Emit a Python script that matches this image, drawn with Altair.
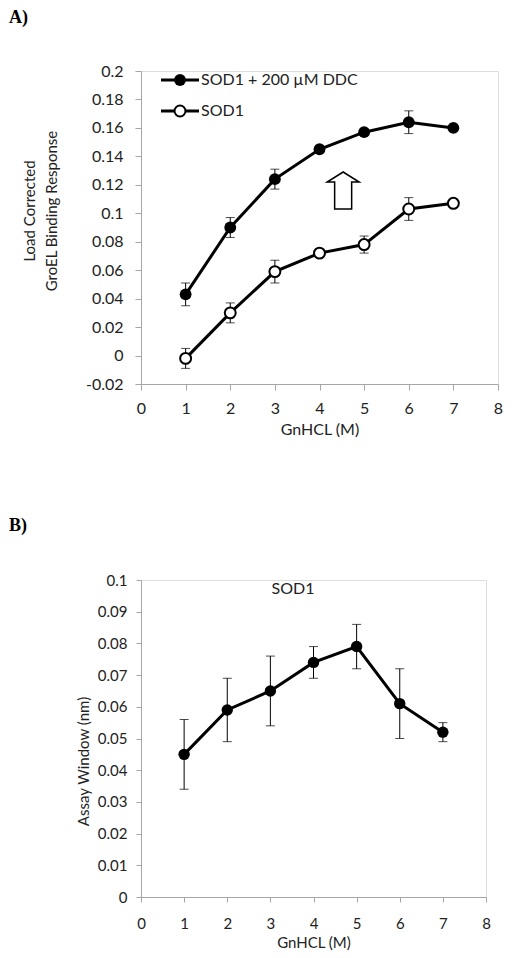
import altair as alt
import pandas as pd

# ---------------- data ----------------
x_vals = [1, 2, 3, 4, 5, 6, 7]

series_names = ["SOD1 + 200 µM DDC", "SOD1"]
ddc_vals = [0.043, 0.090, 0.124, 0.145, 0.157, 0.164, 0.160]
ddc_err = [0.008, 0.007, 0.007, 0.002, 0.002, 0.008, 0.002]
sod_vals = [-0.002, 0.030, 0.059, 0.072, 0.078, 0.103, 0.107]
sod_err = [0.007, 0.007, 0.008, 0.002, 0.006, 0.008, 0.002]

b_vals = [0.045, 0.059, 0.065, 0.074, 0.079, 0.061, 0.052]
b_err = [0.011, 0.010, 0.011, 0.005, 0.007, 0.011, 0.003]

x_ticks = [0, 1, 2, 3, 4, 5, 6, 7, 8]
a_y_ticks = [-0.02, 0, 0.02, 0.04, 0.06, 0.08, 0.1, 0.12, 0.14, 0.16, 0.18, 0.2]
b_y_ticks = [0, 0.01, 0.02, 0.03, 0.04, 0.05, 0.06, 0.07, 0.08, 0.09, 0.1]

arrow_x = [4.53]
arrow_y = [0.116]

x_title = "GnHCL (M)"
a_y_title = ["Load Corrected", "GroEL Binding Response"]
b_y_title = "Assay Window (nm)"
b_title = "SOD1"

# ---------------- styling ----------------
FONT = "Lato"
TXT = "#222222"
AX = "#a6a6a6"
LABEL_EXPR = "replace(format(datum.value, '.2~f'), '\u2212', '-')"


def make_df(vals, errs):
    return pd.DataFrame({
        "x": x_vals,
        "y": vals,
        "lo": [v - e for v, e in zip(vals, errs)],
        "hi": [v + e for v, e in zip(vals, errs)],
    })


def series_layers(df, X, Y, filled, size):
    base = alt.Chart(df)
    line = base.mark_line(color="black", strokeWidth=3).encode(x=X("x"), y=Y("y"))
    rule = base.mark_rule(color="black", strokeWidth=1).encode(
        x=X("x"), y=Y("lo"), y2="hi:Q")
    cap_lo = base.mark_tick(color="black", orient="horizontal", size=9,
                            thickness=1).encode(x=X("x"), y=Y("lo"))
    cap_hi = base.mark_tick(color="black", orient="horizontal", size=9,
                            thickness=1).encode(x=X("x"), y=Y("hi"))
    if filled:
        pts = base.mark_circle(color="black", size=size, opacity=1).encode(
            x=X("x"), y=Y("y"))
    else:
        pts = base.mark_circle(fill="white", stroke="black", strokeWidth=2,
                               size=size, opacity=1).encode(x=X("x"), y=Y("y"))
    return [line, rule, cap_lo, cap_hi, pts]


# ---------------- panel A ----------------
ddc_df = make_df(ddc_vals, ddc_err)
sod_df = make_df(sod_vals, sod_err)

axis_xa = alt.Axis(values=x_ticks, title=x_title, grid=False,
                   labelOverlap=False, labelFlush=False,
                   domainColor=AX, tickColor=AX, tickSize=6,
                   labelFont=FONT, labelFontSize=16, labelColor=TXT,
                   labelPadding=10, titleFont=FONT, titleFontSize=16,
                   titleFontWeight="normal", titleColor=TXT, titleY=37)
axis_ya = alt.Axis(values=a_y_ticks, title=a_y_title, grid=False,
                   labelExpr=LABEL_EXPR, labelOverlap=False, labelFlush=False,
                   domainColor=AX, tickColor=AX, tickSize=6,
                   labelFont=FONT, labelFontSize=16, labelColor=TXT,
                   labelPadding=12, titleFont=FONT, titleFontSize=15,
                   titleFontWeight="normal", titleColor=TXT,
                   titleLineHeight=22, titleX=-104, titleY=139.5,
                   titleBaseline="bottom")


def XA(f):
    return alt.X(f + ":Q", scale=alt.Scale(domain=[0, 8], nice=False), axis=axis_xa)


def YA(f):
    return alt.Y(f + ":Q", scale=alt.Scale(domain=[-0.02, 0.2], nice=False, zero=False),
                 axis=axis_ya)


arrow_path = ("M -0.46 1 L -0.46 -0.46 L -0.865 -0.46 L 0 -1 L 0.865 -0.46 "
              "L 0.46 -0.46 L 0.46 1 Z")
arrow = alt.Chart(pd.DataFrame({"x": arrow_x, "y": arrow_y})).mark_point(
    shape=arrow_path, size=1369, fill="white", stroke="black",
    strokeWidth=1.5, opacity=1, filled=False).encode(x=XA("x"), y=YA("y"))

leg1 = pd.DataFrame({"label": [series_names[0]]})
leg2 = pd.DataFrame({"label": [series_names[1]]})
legend_layers = [
    alt.Chart(leg1).mark_rule(color="black", strokeWidth=3).encode(
        x=alt.value(20), x2=alt.value(58), y=alt.value(9)),
    alt.Chart(leg1).mark_circle(color="black", size=140, opacity=1).encode(
        x=alt.value(39), y=alt.value(9)),
    alt.Chart(leg1).mark_text(align="left", baseline="middle", font=FONT,
                              fontSize=16, color=TXT).encode(
        x=alt.value(60), y=alt.value(9), text="label:N"),
    alt.Chart(leg2).mark_rule(color="black", strokeWidth=3).encode(
        x=alt.value(20), x2=alt.value(58), y=alt.value(40)),
    alt.Chart(leg2).mark_circle(fill="white", stroke="black", strokeWidth=2,
                                size=120, opacity=1).encode(
        x=alt.value(39), y=alt.value(40)),
    alt.Chart(leg2).mark_text(align="left", baseline="middle", font=FONT,
                              fontSize=16, color=TXT).encode(
        x=alt.value(60), y=alt.value(40), text="label:N"),
]

label_a = alt.Chart(pd.DataFrame({"t": ["A)"]})).mark_text(
    align="left", baseline="top", font="Liberation Serif", fontWeight="bold",
    fontSize=18, color="black").encode(x=alt.value(-132), y=alt.value(-62), text="t:N")

a_layers = (series_layers(ddc_df, XA, YA, True, 140)
            + series_layers(sod_df, XA, YA, False, 120)
            + [arrow] + legend_layers + [label_a])
panel_a = alt.layer(*a_layers).properties(width=357, height=313)

# ---------------- panel B ----------------
b_df = make_df(b_vals, b_err)

axis_xb = alt.Axis(values=x_ticks, title=x_title, grid=False,
                   labelOverlap=False, labelFlush=False,
                   domainColor=AX, tickColor=AX, tickSize=5,
                   labelFont=FONT, labelFontSize=15, labelColor=TXT,
                   labelPadding=14, titleFont=FONT, titleFontSize=15,
                   titleFontWeight="normal", titleColor=TXT, titleY=38)
axis_yb = alt.Axis(values=b_y_ticks, title=b_y_title, grid=False,
                   labelExpr=LABEL_EXPR, labelOverlap=False, labelFlush=False,
                   domainColor=AX, tickColor=AX, tickSize=5,
                   labelFont=FONT, labelFontSize=15, labelColor=TXT,
                   labelPadding=9, titleFont=FONT, titleFontSize=15,
                   titleFontWeight="normal", titleColor=TXT,
                   titleX=-50, titleY=181, titleBaseline="bottom")


def XB(f):
    return alt.X(f + ":Q", scale=alt.Scale(domain=[0, 8], nice=False), axis=axis_xb)


def YB(f):
    return alt.Y(f + ":Q", scale=alt.Scale(domain=[0, 0.1], nice=False), axis=axis_yb)


title_b = alt.Chart(pd.DataFrame({"t": [b_title]})).mark_text(
    align="center", baseline="middle", font=FONT, fontSize=16, color=TXT).encode(
    x=alt.value(152), y=alt.value(9), text="t:N")
label_b = alt.Chart(pd.DataFrame({"t": ["B)"]})).mark_text(
    align="left", baseline="top", font="Liberation Serif", fontWeight="bold",
    fontSize=18, color="black").encode(x=alt.value(-132), y=alt.value(-63), text="t:N")

b_layers = series_layers(b_df, XB, YB, True, 130) + [title_b, label_b]
panel_b = alt.layer(*b_layers).properties(width=345, height=317)

chart = alt.concat(panel_a, panel_b, columns=1, spacing=78, align="none").properties(
    padding={"left": 0, "top": 0, "right": 0, "bottom": 0}
).configure_view(stroke=None).configure(background="white")

chart.save("out.html", embed_options={"renderer": "svg", "actions": False})
